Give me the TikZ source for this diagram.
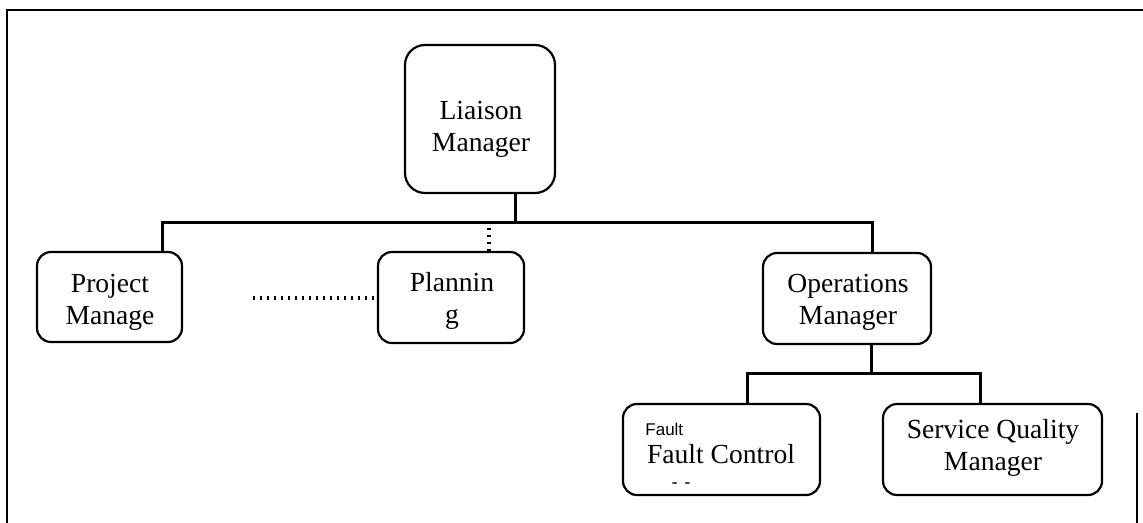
\documentclass[tikz,border=0pt]{standalone}
\usepackage{fontspec}
\setmainfont{Liberation Serif}
\newfontfamily\smallsans{Liberation Sans}
\begin{document}
\begin{tikzpicture}[x=0.5pt,y=-0.5pt,
  box/.style={draw,line width=1.1pt,rounded corners=7pt,inner sep=0pt},
  boxtext/.style={inner sep=0pt,align=center,font=\fontsize{13.8}{16}\selectfont},
  conn/.style={line width=1.5pt},
  dotline/.style={line width=1.6pt,dash pattern=on 1.1pt off 2.4pt},
  frame/.style={line width=0.8pt}]
\useasboundingbox (0,0) rectangle (1143,523);
% frame
\draw[frame] (7,523) -- (7,10) -- (1143,10);
\draw[frame] (1137,413) -- (1137,523);
% boxes
\node[box,minimum width=75pt,minimum height=74pt,rounded corners=10pt] (L) at (480,119) {};
\node[box,minimum width=72.5pt,minimum height=45pt] (P) at (109.5,297) {};
\node[box,minimum width=73pt,minimum height=45.5pt] (Pl) at (451,297.5) {};
\node[box,minimum width=84pt,minimum height=45.5pt] (O) at (847,298.5) {};
\node[box,minimum width=98.5pt,minimum height=45.5pt] (F) at (721.5,449.5) {};
\node[box,minimum width=109.5pt,minimum height=45.5pt] (S) at (992.5,449.5) {};
% box texts
\node[boxtext] (Lt) at (481,129) {Liaison\\Manager};
\node[boxtext] (Pt) at (110,302) {Project\\Manage};
\node[boxtext] (Plt) at (452,301) {Plannin\\g};
\node[boxtext] (Ot) at (848,302) {Operations\\Manager};
\node[boxtext] (St) at (993,448) {Service Quality\\Manager};
% texts inside Fault box
\node[boxtext] (Ft) at (721,454) {Fault Control};
\node[font=\smallsans\fontsize{8.5}{10}\selectfont,inner sep=0pt,anchor=west] (Fs) at (645,429) {Fault};
\node[font=\bfseries\fontsize{8.5}{9}\selectfont,inner sep=0pt] (Fm) at (681,485) {-\, -};
% connectors
\coordinate (tapL) at (515,223);
\coordinate (busW) at (162,223);
\coordinate (busE) at (872,223);
\draw[conn] (L.south -| tapL) -- (tapL);
\draw[conn] (P.north -| busW) -- (busW) -- (busE) -- (O.north -| busE);
\coordinate (tapO) at (871,373);
\coordinate (bus2W) at (747,373);
\coordinate (bus2E) at (980,373);
\draw[conn] (O.south -| tapO) -- (tapO);
\draw[conn] (F.north -| bus2W) -- (bus2W) -- (bus2E) -- (S.north -| bus2E);
% dotted links
\coordinate (dv1) at (489,228);
\coordinate (dh1) at (253,298);
\draw[dotline] (dv1) -- (dv1 |- Pl.north);
\draw[dotline] (dh1) -- (Pl.west |- dh1);
\end{tikzpicture}
\end{document}
